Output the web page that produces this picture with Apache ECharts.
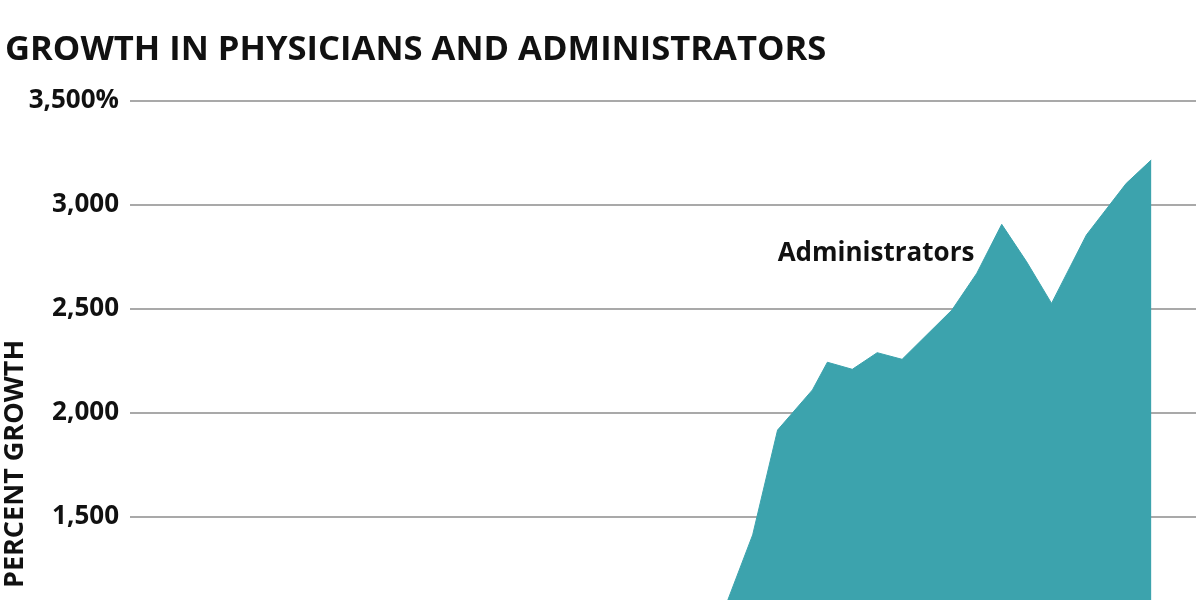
<!DOCTYPE html>
<html>
<head>
<meta charset="utf-8">
<title>Growth in physicians and administrators</title>
<script src="https://cdn.jsdelivr.net/npm/echarts@6/dist/echarts.min.js"></script>
<style>
  html, body { margin: 0; padding: 0; background: #fff; overflow: hidden; }
  /* the plot runs past the bottom edge of the picture, as in the original crop */
  #chart { width: 1200px; height: 640px; }
</style>
</head>
<body>
<div id="chart"></div>
<script>
(function () {
    // administrators, percent growth by year (only the top of the chart is in view)
    var adminYears = [1991, 1992, 1993, 1994, 1995.4, 1996, 1997, 1998, 1999, 2001, 2002, 2003, 2004, 2005, 2006.4, 2008, 2009];
    var adminGrowth = [786, 1100, 1414, 1918, 2111, 2244, 2210, 2290, 2258, 2495, 2672, 2907, 2727, 2527, 2856, 3104, 3216];

    var yTicks = [1000, 1500, 2000, 2500, 3000, 3500];
    var yTickLabels = ['1,000', '1,500', '2,000', '2,500', '3,000', '3,500%'];

    var font = '"Open Sans", "Noto Sans", sans-serif';

    var adminData = adminYears.map(function (y, i) { return [y, adminGrowth[i]]; });

    var option = {
        animation: false,
        backgroundColor: '#fff',
        title: {
            text: 'GROWTH IN PHYSICIANS AND ADMINISTRATORS',
            left: 0,
            top: 28,
            textStyle: {
                fontFamily: font,
                fontSize: 34.6,
                fontWeight: 'bold',
                color: '#111'
            }
        },
        grid: {
            left: 130,
            right: 4,
            top: 101,
            bottom: 19
        },
        xAxis: {
            type: 'value',
            min: 1968,
            max: 2010.8,
            show: false
        },
        yAxis: {
            type: 'value',
            min: yTicks[0],
            max: yTicks[yTicks.length - 1],
            interval: 500,
            axisLine: { show: false },
            axisTick: { show: false },
            axisLabel: {
                margin: 11,
                fontFamily: font,
                fontSize: 26,
                fontWeight: 'bold',
                color: '#111',
                formatter: function (v) {
                    return yTickLabels[yTicks.indexOf(v)];
                }
            },
            splitLine: {
                lineStyle: { color: '#8c8c8c', width: 1.5 }
            }
        },
        graphic: [
            {
                type: 'text',
                x: 15,
                y: 464,
                rotation: Math.PI / 2,
                style: {
                    text: 'PERCENT GROWTH',
                    fontFamily: font,
                    fontSize: 27,
                    fontWeight: 'bold',
                    fill: '#111',
                    textAlign: 'center',
                    textVerticalAlign: 'middle'
                }
            },
            {
                type: 'text',
                x: 876,
                y: 254,
                style: {
                    text: 'Administrators',
                    fontFamily: font,
                    fontSize: 26,
                    fontWeight: 'bold',
                    fill: '#111',
                    textAlign: 'center',
                    textVerticalAlign: 'middle'
                }
            }
        ],
        series: [
            {
                name: 'Administrators',
                type: 'line',
                data: adminData,
                symbol: 'none',
                lineStyle: { color: '#3ca3ad', width: 1 },
                areaStyle: { color: '#3ca3ad', opacity: 1 }
            }
        ]
    };

    var chart = echarts.init(document.getElementById('chart'));
    chart.setOption(option);
})();
</script>
</body>
</html>
